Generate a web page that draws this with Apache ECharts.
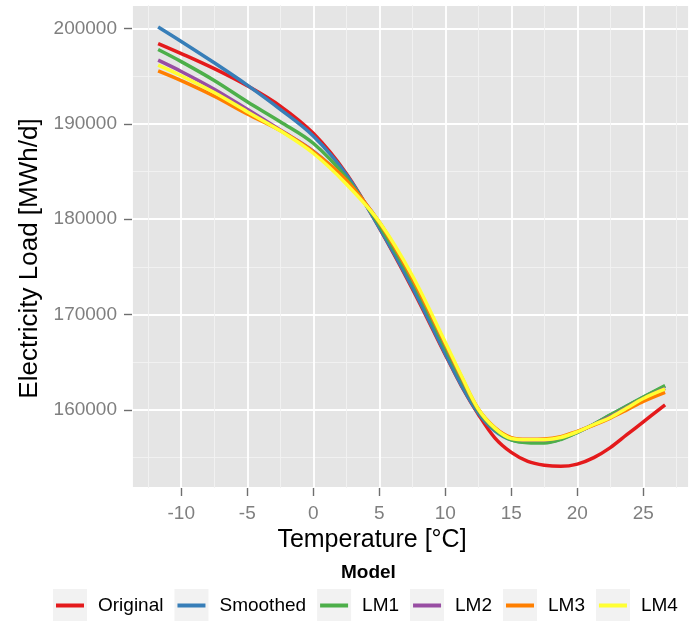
<!DOCTYPE html>
<html>
<head>
<meta charset="utf-8">
<script src="https://cdn.jsdelivr.net/npm/echarts@6/dist/echarts.min.js"></script>
<style>
html,body{margin:0;padding:0;background:#fff;}
#chart{width:689px;height:621px;}
</style>
</head>
<body>
<div id="chart"></div>
<script>
const temperature = [-11.75, -10, -7.5, -5, -2.5, 0, 2.5, 5, 7.5, 10, 11.25, 12.5, 13.75, 15, 16.25, 17.5, 18.75, 20, 21.25, 22.5, 23.75, 25, 26.65];
const original = [198430, 197380, 195790, 194000, 191870, 189010, 184800, 179100, 172720, 165800, 162450, 159550, 157070, 155540, 154600, 154200, 154080, 154320, 155000, 156050, 157400, 158750, 160530];
const smoothed = [200170, 198650, 196410, 194070, 191530, 188730, 184700, 179120, 172880, 165900, 162500, 159650, 157800, 156850, 156600, 156600, 156950, 157650, 158500, 159450, 160400, 161330, 162480];
const lm1 = [197800, 196530, 194550, 192320, 190230, 187970, 184350, 179400, 173500, 166500, 163100, 159900, 157950, 156850, 156560, 156530, 156900, 157650, 158500, 159480, 160400, 161350, 162550];
const lm2 = [196680, 195500, 193640, 191530, 189360, 187150, 184000, 179700, 173800, 166900, 163350, 160050, 158100, 157050, 156850, 156850, 157120, 157720, 158450, 159300, 160250, 161200, 162250];
const lm3 = [195560, 194540, 192910, 191040, 189300, 187090, 184100, 179650, 173800, 166900, 163400, 160100, 158150, 157100, 156920, 156950, 157200, 157750, 158400, 159140, 160000, 160900, 161850];
const lm4 = [196160, 195050, 193290, 191280, 189270, 186920, 183700, 179740, 174100, 167100, 163500, 160100, 158090, 157000, 156860, 156880, 157110, 157700, 158470, 159200, 160200, 161200, 162200];

const modelNames = ['Original', 'Smoothed', 'LM1', 'LM2', 'LM3', 'LM4'];
const modelColors = ['#E41A1C', '#377EB8', '#4DAF4A', '#984EA3', '#FF7F00', '#FFFF33'];
const modelValues = [original, smoothed, lm1, lm2, lm3, lm4];
const xTicks = [-10, -5, 0, 5, 10, 15, 20, 25];
const yTicks = [160000, 170000, 180000, 190000, 200000];

const FONT = "'Liberation Sans', Arial, sans-serif";
const GRID = {left: 132, right: 0, top: 5, bottom: 133};
const W = 689, H = 621;

// tick colour that fades out exactly at the panel edges (hides the non-nice min/max ticks)
function edgeFadeGradient(horizontal) {
  const T = 'rgba(0,0,0,0)', C = '#6E6E6E';
  const g = horizontal
    ? {x: GRID.left, y: 0, x2: W - GRID.right, y2: 0}
    : {x: 0, y: GRID.top, x2: 0, y2: H - GRID.bottom};
  return {
    type: 'linear', global: true, x: g.x, y: g.y, x2: g.x2, y2: g.y2,
    colorStops: [
      {offset: 0, color: T}, {offset: 0.006, color: T}, {offset: 0.007, color: C},
      {offset: 0.993, color: C}, {offset: 0.994, color: T}, {offset: 1, color: T}
    ]
  };
}

const chart = echarts.init(document.getElementById('chart'), null, {renderer: 'canvas'});

const series = modelNames.map((name, i) => ({
  name: name,
  type: 'line',
  data: temperature.map((t, j) => [t, modelValues[i][j]]),
  smooth: 0.35,
  symbol: 'none',
  color: modelColors[i],
  lineStyle: {width: 3.5, color: modelColors[i]},
  emphasis: {disabled: true},
  z: 2 + i
}));

const option = {
  animation: false,
  backgroundColor: '#ffffff',
  textStyle: {fontFamily: FONT},
  title: {
    text: 'Model',
    left: 341,
    top: 563,
    padding: 0,
    textStyle: {fontFamily: FONT, fontSize: 19, fontWeight: 'bold', color: '#000'}
  },
  grid: {
    left: GRID.left, right: GRID.right, top: GRID.top, bottom: GRID.bottom,
    show: true, backgroundColor: '#E5E5E5', borderWidth: 0,
    outerBoundsMode: 'none', containLabel: false
  },
  legend: [
    {
      data: modelNames,
      selectedMode: false,
      left: 53, top: 589,
      padding: 0,
      orient: 'horizontal',
      itemGap: 11,
      itemWidth: 40, itemHeight: 33,
      icon: 'path://M0,0L34,0L34,33L0,33Z M40,33',
      itemStyle: {color: '#F2F2F2', borderWidth: 0},
      textStyle: {fontFamily: FONT, fontSize: 19, color: 'rgba(0,0,0,0)'},
      z: 4
    },
    {
      data: modelNames,
      selectedMode: false,
      left: 53, top: 589,
      padding: 0,
      orient: 'horizontal',
      itemGap: 11,
      itemWidth: 40, itemHeight: 33,
      icon: 'path://M0,0 M40,33 M3,14.5L31,14.5L31,18.5L3,18.5Z',
      itemStyle: {borderWidth: 0},
      textStyle: {fontFamily: FONT, fontSize: 19, color: '#000'},
      z: 5
    }
  ],
  xAxis: {
    type: 'value',
    min: -13.73, max: 28.46,
    splitNumber: 8,
    name: 'Temperature [°C]',
    nameLocation: 'middle',
    nameGap: 37,
    nameTextStyle: {fontFamily: FONT, fontSize: 25, color: '#000', padding: [0, 77, 0, 0]},
    axisLine: {show: true, onZero: false, lineStyle: {color: 'rgba(0,0,0,0)', width: 0}},
    axisTick: {show: true, length: 8, lineStyle: {color: edgeFadeGradient(true), width: 1.4}},
    axisLabel: {fontFamily: FONT, fontSize: 19, color: '#7F7F7F', margin: 16, customValues: xTicks, formatter: v => String(v)},
    splitLine: {show: true, lineStyle: {color: '#FFFFFF', width: 1.8}},
    minorTick: {show: false, splitNumber: 2},
    minorSplitLine: {show: true, lineStyle: {color: '#F2F2F2', width: 0.9}}
  },
  yAxis: {
    type: 'value',
    min: 151810, max: 202470,
    splitNumber: 5,
    name: 'Electricity Load [MWh/d]',
    nameLocation: 'middle',
    nameGap: 69,
    nameTextStyle: {fontFamily: FONT, fontSize: 26, color: '#000', padding: [0, 24, 0, 0]},
    axisLine: {show: true, onZero: false, lineStyle: {color: 'rgba(0,0,0,0)', width: 0}},
    axisTick: {show: true, length: 8, lineStyle: {color: edgeFadeGradient(false), width: 1.4}},
    axisLabel: {fontFamily: FONT, fontSize: 19, color: '#7F7F7F', margin: 15, customValues: yTicks, formatter: v => String(v)},
    splitLine: {show: true, lineStyle: {color: '#FFFFFF', width: 1.8}},
    minorTick: {show: false, splitNumber: 2},
    minorSplitLine: {show: true, lineStyle: {color: '#F2F2F2', width: 0.9}}
  },
  series: series
};

chart.setOption(option);
</script>
</body>
</html>
